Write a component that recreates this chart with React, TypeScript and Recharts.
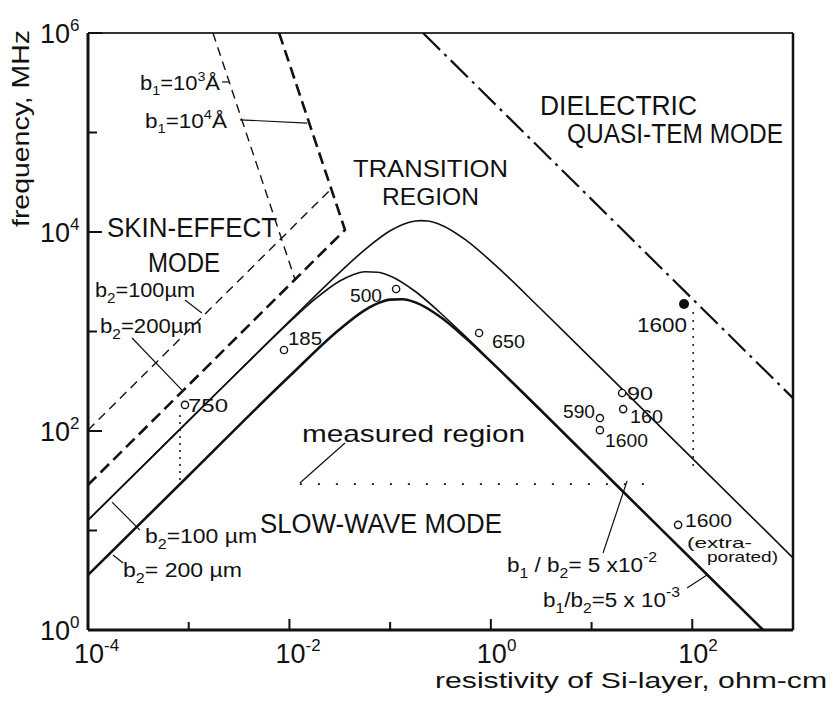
import React from "react";
import {
  ComposedChart,
  Line,
  Scatter,
  XAxis,
  YAxis,
  ReferenceLine,
} from "recharts";

const FONT = "'Liberation Sans', Arial, sans-serif";
const INK = "#111";

// ── axes: resistivity of Si-layer (ohm-cm) vs frequency (MHz), both log ──
const xTicks = [1e-4, 1e-3, 1e-2, 1e-1, 1, 10, 100, 1000];
const yTicks = [1, 10, 100, 1e3, 1e4, 1e5, 1e6];

// b1/b2 = 5x10^-2, b2 = 100 um (upper boundary of transition region)
const outerRho = [1e-4, 1e-3, 1e-2, 0.0316, 0.0562, 0.1, 0.1334, 0.178, 0.204, 0.237, 0.316, 0.562, 1, 3.16, 10, 100, 1000];
const outerF = [12.7, 127, 1271, 3936, 6653, 10280, 11910, 12880, 13000, 12880, 11850, 8340, 5100, 1672, 531, 53.1, 5.31];

// b1/b2 = 5x10^-3, b2 = 100 um
const midRho = [1e-4, 1e-3, 3.16e-3, 1e-2, 0.0178, 0.0316, 0.0422, 0.0562, 0.075, 0.1, 0.178, 0.316, 0.562, 1, 10, 100, 505];
const midF = [12.7, 127, 401, 1242, 2099, 3214, 3707, 3985, 3945, 3614, 2523, 1535, 887, 502, 50.5, 5.05, 1];

// b1/b2 = 5x10^-3, b2 = 200 um (lower boundary, heavy)
const innerRho = [1e-4, 1e-3, 1e-2, 0.0316, 0.0562, 0.075, 0.1, 0.1334, 0.178, 0.316, 0.562, 1, 3.16, 10, 100, 505];
const innerF = [3.57, 35.7, 355, 1055, 1641, 1916, 2092, 2109, 1962, 1398, 859, 498, 160, 50.5, 5.05, 1];

// skin-effect boundaries
const skinHeavyRho = [7.9e-3, 3.56e-2, 1e-4]; // b1 = 10^4 A, b2 = 200 um
const skinHeavyF = [1e6, 1.05e4, 28.7];
const skinLightVRho = [1.74e-3, 1.14e-2]; // b1 = 10^3 A
const skinLightVF = [1e6, 3300];
const skinLightRRho = [1e-4, 2.53e-2]; // b2 = 100 um
const skinLightRF = [102, 2.64e4];

// dielectric quasi-TEM boundary
const temRho = [0.212, 1000];
const temF = [1e6, 214];

// dotted drops and measured-region floor
const drop1Rho = [8.2e-4, 8.2e-4];
const drop1F = [145, 29.3];
const drop2Rho = [102, 102];
const drop2F = [1570, 38.7];
const floorRho = [0.0127, 42.7];
const floorF = [29.3, 29.3];

// measured points (open circles) and the filled one
const openRho = [9.18e-4, 8.83e-3, 0.1146, 0.764, 20.1, 20.6, 12.1, 12.1, 72.3];
const openF = [183, 652, 2675, 966, 241, 166, 135, 102, 11.4];
const filledRho = [82.8];
const filledF = [1890];

// leader lines from labels
const leaders: [number[], number[]][] = [
  [[2.14e-3, 2.51e-3], [3.22e5, 3.22e5]],
  [[3.23e-3, 1.5e-2], [1.34e5, 1.245e5]],
  [[9.18e-4, 1.35e-3], [2073, 1535]],
  [[2.74e-4, 8.57e-4], [861, 258]],
  [[1.73e-4, 3.28e-4], [19.3, 10.1]],
  [[1.77e-4, 2.23e-4], [5.67, 4.71]],
  [[13.0, 22.5], [5.94, 31.4]],
  [[88.7, 140], [2.64, 3.57]],
  [[0.0127, 0.0356], [30, 75.7]],
];

const pts = (rho: number[], f: number[]) => rho.map((r, i) => ({ rho: r, f: f[i] }));

function XTick({ x, y, payload }: any) {
  const e = Math.round(Math.log10(payload.value));
  const major = e % 2 === 0;
  return (
    <g>
      <line x1={x} y1={y} x2={x} y2={y - (major ? 11 : 8)} stroke={INK} strokeWidth={2} />
      {major && (
        <text x={x - 14} y={y + 33} fontSize={27} fill={INK} fontFamily={FONT}>
          10
          <tspan dy={-12} fontSize={17}>
            {e}
          </tspan>
        </text>
      )}
    </g>
  );
}

function YTick({ x, y, payload }: any) {
  const e = Math.round(Math.log10(payload.value));
  const major = e % 2 === 0;
  return (
    <g>
      <line x1={x} y1={y} x2={x + (major ? 14 : 9)} y2={y} stroke={INK} strokeWidth={2} />
      {major && (
        <text x={x - 48} y={y + 10} fontSize={27} fill={INK} fontFamily={FONT}>
          10
          <tspan dy={-12} fontSize={17}>
            {e}
          </tspan>
        </text>
      )}
    </g>
  );
}

const openDot = (p: any) => (
  <circle cx={p.cx} cy={p.cy} r={3.6} fill="#fff" stroke={INK} strokeWidth={1.4} />
);
const filledDot = (p: any) => <circle cx={p.cx} cy={p.cy} r={5} fill={INK} />;

function Lbl({ x, y, w, s, children }: any) {
  return (
    <text
      x={x}
      y={y}
      fontSize={s}
      textLength={w}
      lengthAdjust="spacingAndGlyphs"
      fill={INK}
      fontFamily={FONT}
    >
      {children}
    </text>
  );
}

const sub = (t: string, rest: string) => [
  <tspan key="s" dy={6} fontSize={14}>{t}</tspan>,
  <tspan key="r" dy={-6}>{rest}</tspan>,
];

function Annotations() {
  return (
    <svg
      width={834}
      height={702}
      style={{ position: "absolute", left: 0, top: 0, pointerEvents: "none" }}
    >
      <Lbl x={353} y={177} w={155} s={24}>TRANSITION</Lbl>
      <Lbl x={382} y={205} w={97} s={24}>REGION</Lbl>
      <Lbl x={540} y={115} w={157} s={27}>DIELECTRIC</Lbl>
      <Lbl x={567} y={143} w={216} s={27}>QUASI-TEM MODE</Lbl>
      <Lbl x={107} y={237} w={170} s={27}>SKIN-EFFECT</Lbl>
      <Lbl x={148} y={272} w={72} s={27}>MODE</Lbl>
      <Lbl x={260} y={533} w={242} s={27}>SLOW-WAVE MODE</Lbl>
      <Lbl x={302} y={442} w={223} s={24}>measured region</Lbl>

      <Lbl x={140} y={90} w={80} s={20}>
        b<tspan dy={5} fontSize={13}>1</tspan>
        <tspan dy={-5}>=10</tspan>
        <tspan dy={-9} fontSize={13}>3</tspan>
        <tspan dy={9}>Å</tspan>
      </Lbl>
      <Lbl x={145} y={128} w={82} s={20}>
        b<tspan dy={5} fontSize={13}>1</tspan>
        <tspan dy={-5}>=10</tspan>
        <tspan dy={-9} fontSize={13}>4</tspan>
        <tspan dy={9}>Å</tspan>
      </Lbl>
      <Lbl x={95} y={297} w={100} s={20}>b{sub("2", "=100µm")}</Lbl>
      <Lbl x={100} y={333} w={102} s={20}>b{sub("2", "=200µm")}</Lbl>
      <Lbl x={145} y={543} w={112} s={20}>b{sub("2", "=100 µm")}</Lbl>
      <Lbl x={123} y={577} w={119} s={20}>b{sub("2", "= 200 µm")}</Lbl>
      <Lbl x={507} y={572} w={150} s={20}>
        b<tspan dy={6} fontSize={14}>1</tspan>
        <tspan dy={-6}> / b</tspan>
        <tspan dy={6} fontSize={14}>2</tspan>
        <tspan dy={-6}>= 5 x10</tspan>
        <tspan dy={-10} fontSize={14}>-2</tspan>
      </Lbl>
      <Lbl x={543} y={607} w={137} s={20}>
        b<tspan dy={6} fontSize={14}>1</tspan>
        <tspan dy={-6}>/b</tspan>
        <tspan dy={6} fontSize={14}>2</tspan>
        <tspan dy={-6}>=5 x 10</tspan>
        <tspan dy={-10} fontSize={14}>-3</tspan>
      </Lbl>

      <Lbl x={188} y={412} w={40} s={19}>750</Lbl>
      <Lbl x={288} y={345} w={34} s={19}>185</Lbl>
      <Lbl x={350} y={302} w={32} s={19}>500</Lbl>
      <Lbl x={492} y={348} w={33} s={19}>650</Lbl>
      <Lbl x={627} y={400} w={26} s={19}>90</Lbl>
      <Lbl x={630} y={423} w={33} s={19}>160</Lbl>
      <Lbl x={563} y={418} w={32} s={19}>590</Lbl>
      <Lbl x={605} y={447} w={43} s={19}>1600</Lbl>
      <Lbl x={637} y={332} w={50} s={20}>1600</Lbl>
      <Lbl x={685} y={527} w={47} s={19}>1600</Lbl>
      <Lbl x={687} y={548} w={65} s={15}>(extra-</Lbl>
      <Lbl x={707} y={562} w={71} s={15}>porated)</Lbl>

      <text
        x={29}
        y={227}
        transform="rotate(-90 29 227)"
        fontSize={24}
        textLength={197}
        lengthAdjust="spacingAndGlyphs"
        fill={INK}
        fontFamily={FONT}
      >
        frequency, MHz
      </text>
      <Lbl x={435} y={688} w={392} s={22}>resistivity of Si-layer, ohm-cm</Lbl>
    </svg>
  );
}

export default function App() {
  return (
    <div style={{ position: "absolute", left: 0, top: 0, width: 834, height: 702, background: "#fff" }}>
      <ComposedChart width={834} height={702} margin={{ top: 33, right: 41, bottom: 0, left: 0 }}>
        <XAxis
          type="number"
          dataKey="rho"
          scale="log"
          domain={[1e-4, 1e3]}
          allowDataOverflow
          ticks={xTicks}
          interval={0}
          height={72}
          tickSize={0}
          tickMargin={0}
          tickLine={false}
          tick={<XTick />}
          axisLine={{ stroke: INK, strokeWidth: 3 }}
        />
        <YAxis
          type="number"
          scale="log"
          domain={[1, 1e6]}
          allowDataOverflow
          ticks={yTicks}
          interval={0}
          width={88}
          tickSize={0}
          tickMargin={0}
          tickLine={false}
          tick={<YTick />}
          axisLine={{ stroke: INK, strokeWidth: 3 }}
        />
        <ReferenceLine y={1e6} stroke="#333" strokeWidth={2} />
        <ReferenceLine x={1e3} stroke={INK} strokeWidth={2.5} />

        <Line data={pts(outerRho, outerF)} dataKey="f" type="monotone" stroke={INK} strokeWidth={1.6} dot={false} isAnimationActive={false} />
        <Line data={pts(midRho, midF)} dataKey="f" type="monotone" stroke={INK} strokeWidth={1.6} dot={false} isAnimationActive={false} />
        <Line data={pts(innerRho, innerF)} dataKey="f" type="monotone" stroke={INK} strokeWidth={2.6} dot={false} isAnimationActive={false} />

        <Line data={pts(skinHeavyRho, skinHeavyF)} dataKey="f" type="linear" stroke={INK} strokeWidth={2.6} strokeDasharray="12 6" dot={false} isAnimationActive={false} />
        <Line data={pts(skinLightVRho, skinLightVF)} dataKey="f" type="linear" stroke={INK} strokeWidth={1.4} strokeDasharray="9 6" dot={false} isAnimationActive={false} />
        <Line data={pts(skinLightRRho, skinLightRF)} dataKey="f" type="linear" stroke={INK} strokeWidth={1.4} strokeDasharray="9 6" dot={false} isAnimationActive={false} />
        <Line data={pts(temRho, temF)} dataKey="f" type="linear" stroke={INK} strokeWidth={2.2} strokeDasharray="24 6 3 6" dot={false} isAnimationActive={false} />

        <Line data={pts(drop1Rho, drop1F)} dataKey="f" type="linear" stroke={INK} strokeWidth={1.5} strokeDasharray="2 5" dot={false} isAnimationActive={false} />
        <Line data={pts(drop2Rho, drop2F)} dataKey="f" type="linear" stroke={INK} strokeWidth={1.5} strokeDasharray="2 6" dot={false} isAnimationActive={false} />
        <Line data={pts(floorRho, floorF)} dataKey="f" type="linear" stroke={INK} strokeWidth={1.8} strokeDasharray="2 16" dot={false} isAnimationActive={false} />

        {leaders.map(([r, f], i) => (
          <Line key={`ld-${i}`} data={pts(r, f)} dataKey="f" type="linear" stroke={INK} strokeWidth={1.2} dot={false} isAnimationActive={false} />
        ))}

        <Scatter data={pts(openRho, openF)} dataKey="f" shape={openDot} isAnimationActive={false} />
        <Scatter data={pts(filledRho, filledF)} dataKey="f" shape={filledDot} isAnimationActive={false} />
      </ComposedChart>
      <Annotations />
    </div>
  );
}
